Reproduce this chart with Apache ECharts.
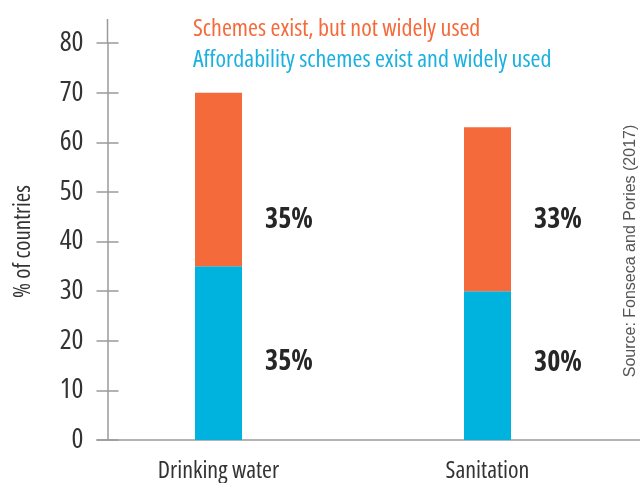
<!DOCTYPE html>
<html>
<head>
<meta charset="utf-8">
<script src="https://cdn.jsdelivr.net/npm/echarts@6/dist/echarts.min.js"></script>
<style>
html,body{margin:0;padding:0;background:#fff;}
#c{width:640px;height:483px;}
</style>
</head>
<body>
<div id="c"></div>
<script>
// ---- data ----
const categories = ['Drinking water', 'Sanitation'];
const widelyUsed = [35, 30];          // Affordability schemes exist and widely used
const notWidelyUsed = [35, 33];       // Schemes exist, but not widely used
const seriesNames = ['Affordability schemes exist and widely used', 'Schemes exist, but not widely used'];
const yMin = 0, yMax = 80, yInterval = 10;
const yTitle = '% of countries';
const sourceText = 'Source: Fonseca and Pories (2017)';

// ---- style / layout ----
const ORANGE = '#F56A3A';
const BLUE = '#00B2DE';
const AXIS = '#9a9a9a';
const FONT = "'Open Sans', 'Roboto Condensed', sans-serif";
const STRETCH = 'condensed';
const blueLabelShift = [9, -3];
const orangeLabelShift = [41, 11];
const GRID_L = 84, GRID_R = 18;
const Y_AXIS_X = 107.5;

const chart = echarts.init(document.getElementById('c'), null, {renderer: 'canvas'});

const yBase = {
  type: 'value', min: yMin, max: yMax, interval: yInterval,
  splitLine: {show: false}
};
const txt = (size, color, weight) => ({fontFamily: FONT, fontStyle: STRETCH, fontWeight: weight || 'normal', fontSize: size, color: color});

const option = {
  backgroundColor: '#fff',
  animation: false,
  grid: {left: GRID_L, right: GRID_R, top: 43, bottom: 42.5, containLabel: false},
  legend: {
    orient: 'vertical', left: 183, top: 12, itemGap: 7,
    itemWidth: 0, itemHeight: 0, icon: 'rect', selectedMode: false,
    textStyle: txt(24, '#333'),
    data: [
      {name: seriesNames[1], textStyle: {color: ORANGE}},
      {name: seriesNames[0], textStyle: {color: '#1AB1E0'}}
    ]
  },
  xAxis: {
    type: 'category', data: categories,
    axisLine: {show: false}, axisTick: {show: false},
    axisLabel: Object.assign(txt(24, '#333'), {margin: 19})
  },
  yAxis: [
    Object.assign({}, yBase, {
      position: 'left', offset: GRID_L - Y_AXIS_X,
      name: yTitle, nameLocation: 'middle', nameRotate: 90, nameGap: 73,
      nameTextStyle: txt(23, '#333'),
      axisLine: {show: true, lineStyle: {color: AXIS, width: 1.5}},
      axisTick: {show: true, inside: false, length: 11, lineStyle: {color: AXIS, width: 1.5}},
      axisLabel: Object.assign(txt(28, '#333'), {margin: 24})
    }),
    Object.assign({}, yBase, {
      position: 'right', offset: Y_AXIS_X - (640 - GRID_R),
      axisLine: {show: false},
      axisTick: {show: true, inside: false, length: 11, lineStyle: {color: AXIS, width: 1.5}},
      axisLabel: {show: false}
    })
  ],
  series: [
    {
      name: seriesNames[0], type: 'bar', stack: 'total', barWidth: 47,
      itemStyle: {color: BLUE},
      label: Object.assign({show: true, position: 'right', distance: 23, formatter: '{c}%'}, txt(28, '#262626', 'bold')),
      data: widelyUsed.map((v, i) => ({value: v, label: {offset: [0, blueLabelShift[i]]}}))
    },
    {
      name: seriesNames[1], type: 'bar', stack: 'total', barWidth: 47,
      itemStyle: {color: ORANGE},
      label: Object.assign({show: true, position: 'right', distance: 23, formatter: '{c}%'}, txt(28, '#262626', 'bold')),
      data: notWidelyUsed.map((v, i) => ({value: v, label: {offset: [0, orangeLabelShift[i]]}}))
    }
  ]
};
chart.setOption(option);

// axis extensions and source note, positioned from the chart's own scales
const y0 = chart.convertToPixel({yAxisIndex: 0}, yMin);
const yTop = chart.convertToPixel({yAxisIndex: 0}, yMax);
chart.setOption({
  graphic: [
    {type: 'line', shape: {x1: Y_AXIS_X - 11, y1: y0, x2: 640, y2: y0},
      style: {stroke: AXIS, lineWidth: 1.5}, silent: true},
    {type: 'line', shape: {x1: Y_AXIS_X, y1: yTop, x2: Y_AXIS_X, y2: yTop - 24},
      style: {stroke: AXIS, lineWidth: 1.5}, silent: true},
    {type: 'text', x: 631, y: 251, rotation: Math.PI / 2,
      style: {text: sourceText, fill: '#555', font: "16px 'Liberation Sans', Arial, sans-serif",
        align: 'center', verticalAlign: 'middle'}, silent: true}
  ]
});
</script>
</body>
</html>
